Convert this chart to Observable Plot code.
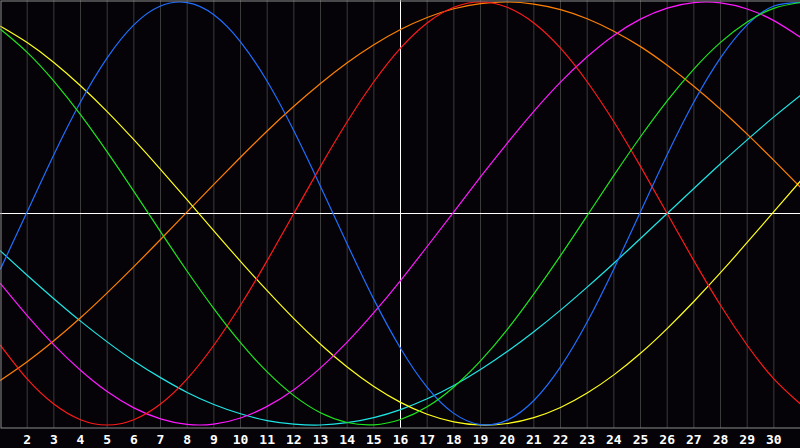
<!DOCTYPE html>
<html>
<head>
<meta charset="utf-8">
<script src="https://cdn.jsdelivr.net/npm/d3@7"></script>
<script src="https://cdn.jsdelivr.net/npm/@observablehq/plot@0.6"></script>
<style>
  html, body { margin: 0; padding: 0; background: #050308; }
  #chart { width: 800px; height: 448px; overflow: hidden; }
</style>
</head>
<body>
<div id="chart"></div>
<script>
const days = [1,2,3,4,5,6,7,8,9,10,11,12,13,14,15,16,17,18,19,20,21,22,23,24,25,26,27,28,29,30,31];
const tickDays = [2,3,4,5,6,7,8,9,10,11,12,13,14,15,16,17,18,19,20,21,22,23,24,25,26,27,28,29,30];

// 23-day cycle (blue)
const physical = [-0.262,0.008,0.278,0.527,0.736,0.892,0.981,0.997,0.940,0.812,0.625,0.391,0.128,-0.144,-0.406,-0.637,-0.822,-0.945,-0.998,-0.977,-0.884,-0.725,-0.513,-0.262,0.008,0.278,0.527,0.736,0.892,0.981,0.997];
// 28-day cycle (red)
const emotional = [-0.623,-0.782,-0.901,-0.975,-1.000,-0.975,-0.901,-0.782,-0.623,-0.434,-0.223,0.000,0.223,0.434,0.623,0.782,0.901,0.975,1.000,0.975,0.901,0.782,0.623,0.434,0.223,0.000,-0.223,-0.434,-0.623,-0.782,-0.901];
// 33-day cycle (green)
const intellectual = [0.871,0.762,0.626,0.467,0.291,0.105,-0.086,-0.273,-0.450,-0.611,-0.749,-0.861,-0.942,-0.988,-0.999,-0.974,-0.914,-0.820,-0.697,-0.549,-0.380,-0.199,-0.010,0.180,0.363,0.533,0.683,0.809,0.906,0.970,0.998];
// 38-day cycle (magenta)
const intuitive = [-0.332,-0.483,-0.621,-0.741,-0.842,-0.919,-0.971,-0.997,-0.996,-0.967,-0.912,-0.833,-0.730,-0.608,-0.469,-0.317,-0.156,0.008,0.173,0.332,0.483,0.621,0.741,0.842,0.919,0.971,0.997,0.996,0.967,0.912,0.833];
// 43-day cycle (yellow)
const aesthetic = [0.885,0.808,0.714,0.604,0.482,0.349,0.209,0.064,-0.082,-0.226,-0.365,-0.497,-0.618,-0.726,-0.818,-0.893,-0.949,-0.985,-1.000,-0.993,-0.965,-0.917,-0.849,-0.763,-0.661,-0.544,-0.416,-0.280,-0.137,0.009,0.154];
// 48-day cycle (orange)
const awareness = [-0.789,-0.701,-0.602,-0.493,-0.375,-0.251,-0.123,0.008,0.138,0.266,0.390,0.507,0.615,0.713,0.798,0.870,0.927,0.968,0.992,1.000,0.990,0.964,0.921,0.862,0.789,0.701,0.602,0.493,0.375,0.251,0.123];
// 53-day cycle (cyan)
const spiritual = [-0.177,-0.292,-0.403,-0.509,-0.607,-0.697,-0.776,-0.846,-0.903,-0.947,-0.979,-0.996,-1.000,-0.989,-0.965,-0.927,-0.876,-0.813,-0.738,-0.653,-0.559,-0.457,-0.348,-0.235,-0.118,0.000,0.118,0.235,0.348,0.457,0.559];

const seriesNames = ["spiritual","awareness","aesthetic","intuitive","emotional","physical","intellectual"];
const seriesValues = {physical, emotional, intellectual, intuitive, aesthetic, awareness, spiritual};
const seriesColors = {
  physical: "#1f6fff",
  emotional: "#ff1a1a",
  intellectual: "#1ee61e",
  intuitive: "#ff1aff",
  aesthetic: "#ffff1a",
  awareness: "#ff8000",
  spiritual: "#1ee6e6"
};

const rows = [];
for (const name of seriesNames) {
  seriesValues[name].forEach((v, i) => rows.push({series: name, day: days[i], value: v}));
}

const chart = Plot.plot({
  width: 800,
  height: 448,
  marginTop: 0,
  marginRight: 0,
  marginBottom: 20,
  marginLeft: 0,
  style: {background: "#050308", overflow: "hidden"},
  x: {domain: [1, 31], range: [0, 800], axis: null},
  y: {domain: [-1, 1], range: [424.5, 1.5], axis: null},
  marks: [
    Plot.ruleX(tickDays, {stroke: "#3a3a3a", strokeWidth: 1}),
    Plot.ruleX([16], {stroke: "#ffffff", strokeWidth: 1}),
    Plot.ruleY([0], {stroke: "#ffffff", strokeWidth: 1}),
    ...seriesNames.map(name =>
      Plot.line(rows.filter(r => r.series === name), {
        x: "day", y: "value", stroke: seriesColors[name], strokeWidth: 1.2, curve: "natural"
      })
    ),
    Plot.frame({stroke: "#8c8c8c", strokeWidth: 1, insetTop: 0.5, insetLeft: 0.5, insetBottom: 0.5, insetRight: -2}),
    Plot.text(tickDays, {
      x: d => d, frameAnchor: "bottom", dy: 11, text: d => String(d),
      fill: "#ffffff", fontSize: 13, fontWeight: "bold", fontFamily: "DejaVu Sans Mono",
      textAnchor: "middle", lineAnchor: "middle"
    })
  ]
});
document.getElementById("chart").appendChild(chart);
</script>
</body>
</html>
